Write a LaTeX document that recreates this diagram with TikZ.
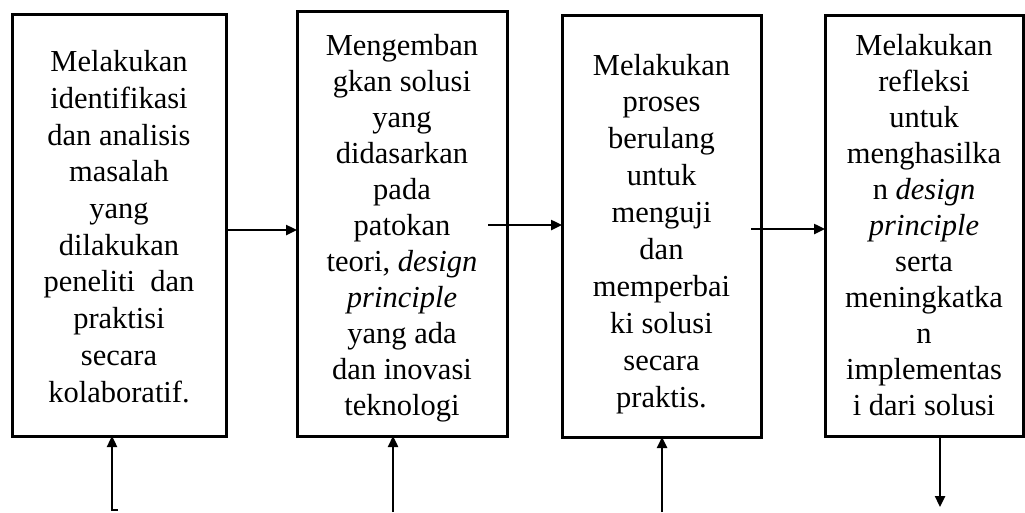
\documentclass[tikz,border=0pt]{standalone}
\usepackage{fontspec}
\setmainfont{Liberation Serif}
\usetikzlibrary{arrows.meta}
\newcommand\mylines[2]{{\fontsize{30.5}{#1}\selectfont\setlength\tabcolsep{0pt}\begin{tabular}[t]{c}#2\end{tabular}}}
\begin{document}
\begin{tikzpicture}[x=1pt,y=-1pt,
  stepbox/.style={draw,line width=3pt,inner sep=0pt,outer sep=0pt},
  boxtext/.style={anchor=base,inner sep=0pt},
  arr/.style={line width=2.4pt,-{Triangle[length=11pt,width=10pt]}}]
\useasboundingbox (0,0) rectangle (1025,512);
% boxes
\node[stepbox,minimum width=214pt,minimum height=422pt] (b1) at (119,225) {};
\node[stepbox,minimum width=210pt,minimum height=425pt] (b2) at (402,223.5) {};
\node[stepbox,minimum width=199pt,minimum height=422pt] (b3) at (661.5,226) {};
\node[stepbox,minimum width=198pt,minimum height=421pt] (b4) at (924,225.5) {};
% texts
\node[boxtext] (t1) at (119,71.7) {\mylines{36.7}{Melakukan\\identifikasi\\dan analisis\\masalah\\yang\\dilakukan\\peneliti\ \ dan\\praktisi\\secara\\kolaboratif.}};
\node[boxtext] (t2) at (402,55) {\mylines{36}{Mengemban\\gkan solusi\\yang\\didasarkan\\pada\\patokan\\teori, \textit{design}\\\textit{principle}\\yang ada\\dan inovasi\\teknologi}};
\node[boxtext] (t3) at (661.5,75) {\mylines{36.9}{Melakukan\\proses\\berulang\\untuk\\menguji\\dan\\memperbai\\ki solusi\\secara\\praktis.}};
\node[boxtext] (t4) at (924,55) {\mylines{36}{Melakukan\\refleksi\\untuk\\menghasilka\\n \textit{design}\\\textit{principle}\\serta\\meningkatka\\n\\implementas\\i dari solusi}};
% horizontal connectors
\draw[arr] ([yshift=-5pt]b1.east) -- ([yshift=-5pt]b1.east -| b2.west);
\coordinate (s23) at (488,225);
\draw[arr] (s23) -- (s23 -| b3.west);
\coordinate (s34) at (751,229);
\draw[arr] (s34) -- (s34 -| b4.west);
% bottom connectors
\coordinate (f1) at (118,510);
\coordinate (c1) at (112,510);
\draw[arr] (f1) -- (c1) -- (c1 |- b1.south);
\coordinate (f2) at (393,512);
\draw[arr] (f2) -- (f2 |- b2.south);
\coordinate (f3) at (662,512);
\draw[arr] (f3) -- (f3 |- b3.south);
\coordinate (f4) at (940,507);
\draw[arr] (f4 |- b4.south) -- (f4);
\end{tikzpicture}
\end{document}
